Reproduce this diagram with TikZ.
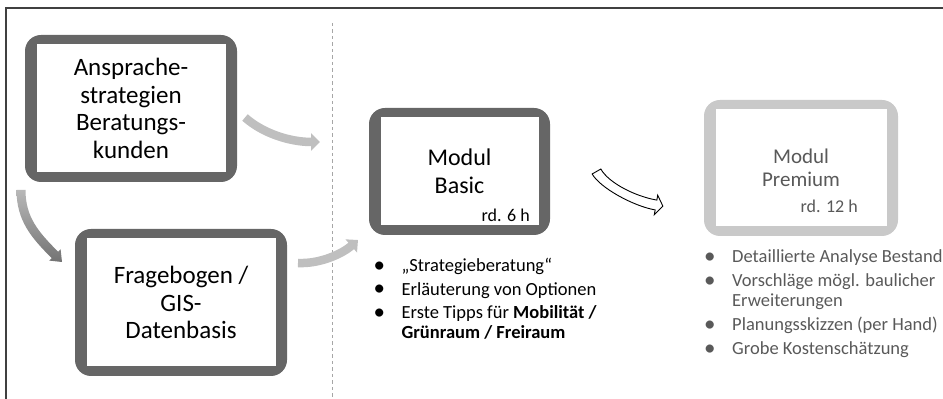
\documentclass[tikz,border=0pt]{standalone}
\usepackage{fontspec}
\setmainfont{Carlito}
\usetikzlibrary{arrows.meta,calc}
\definecolor{boxdark}{HTML}{666666}
\definecolor{boxlight}{HTML}{C9C9C9}
\definecolor{arrowgray}{HTML}{BFBFBF}
\definecolor{premtext}{HTML}{595959}
\definecolor{framecol}{HTML}{404040}
\definecolor{dashcol}{HTML}{A6A6A6}
\definecolor{shadetop}{HTML}{B8B8B8}
\definecolor{shadebot}{HTML}{737373}
\newcommand{\bigdot}{\raisebox{-0.5pt}{\fontsize{23}{20}\selectfont\textbullet}}
\begin{document}
\begin{tikzpicture}[x=1pt,y=1pt,
  modbox/.style={fill=boxdark, rounded corners=16pt, outer sep=0pt,
    align=center, inner sep=0pt,
    path picture={\fill[white, sharp corners]
      ($(path picture bounding box.south west)+(11.5,9.5)$) rectangle
      ($(path picture bounding box.north east)+(-11.5,-9.5)$);}},
  premiumbox/.style={modbox, fill=boxlight, text=premtext},
  hours/.style={inner sep=0pt, font=\fontsize{18}{20}\selectfont},
  flowarrow/.style={draw=arrowgray, line width=8.5pt,
    -{Triangle[width=17pt,length=9pt]}},
  bulletlist/.style={inner sep=0pt, anchor=base west, align=left,
    font=\fontsize{18.5}{20}\selectfont}]
\useasboundingbox (0,0) rectangle (943,399);

% frame
\draw[framecol, line width=1.5pt] (6,0) -- (6,391) -- (943,391);
% dashed separator
\draw[dashcol, line width=0.9pt, dash pattern=on 3.5pt off 3pt] (332,376) -- (332,0);

% boxes
\node[modbox, minimum width=212pt, minimum height=147pt,
  font=\fontsize{25}{27.5}\selectfont] (box1) at (131,290.5)
  {Ansprache-\\strategien\\Beratungs-\\kunden};
\node[modbox, minimum width=212pt, minimum height=147pt,
  font=\fontsize{25}{27.5}\selectfont] (box2) at (181,96.5)
  {Fragebogen /\\GIS-\\Datenbasis};
\node[modbox, minimum width=181pt, minimum height=127pt,
  font=\fontsize{24}{27.5}\selectfont] (box3) at (459.5,227.5)
  {Modul\\Basic};
\node[premiumbox, minimum width=194pt, minimum height=136pt,
  font=\fontsize{21}{23.5}\selectfont] (box4) at (801,231)
  {Modul\\Premium};

\node[hours, anchor=base east] (h3) at ($(box3.south east)+(-20,13)$) {rd. 6 h};
\node[hours, anchor=base east, text=premtext] (h4) at ($(box4.south east)+(-40,23)$) {rd. 12 h};

% lists
\node[bulletlist] (list3) at (373.4,127) {%
  \begin{tabular}[t]{@{}l@{}l@{}}
  \makebox[28pt][l]{\bigdot} & „Strategieberatung“\\[3.5pt]
  \makebox[28pt][l]{\bigdot} & Erläuterung von Optionen\\[3.5pt]
  \makebox[28pt][l]{\bigdot} & Erste Tipps für \textbf{Mobilität /}\\
   & \textbf{Grünraum / Freiraum}
  \end{tabular}};
\node[bulletlist, text=premtext] (list4) at (704,136) {%
  \begin{tabular}[t]{@{}l@{}l@{}}
  \makebox[28pt][l]{\bigdot} & Detaillierte Analyse Bestand\\[4pt]
  \makebox[28pt][l]{\bigdot} & Vorschläge mögl. baulicher\\
   & Erweiterungen\\[4pt]
  \makebox[28pt][l]{\bigdot} & Planungsskizzen (per Hand)\\[4pt]
  \makebox[28pt][l]{\bigdot} & Grobe Kostenschätzung
  \end{tabular}};

% gray flow arrows
\coordinate (a1s) at ($(box1.east)+(8,-9)$);
\coordinate (a1e) at ($(box3.west)+(-49,29.5)$);
\draw[flowarrow] (a1s) .. controls +(18,-16) and +(-30,0) .. (a1e);

\coordinate (a2s) at ($(box2.east)+(11,39.5)$);
\coordinate (a2e) at ($(box3.south west)+(-11,-5)$);
\draw[flowarrow] (a2s) .. controls +(22,-1) and +(-16,-14) .. (a2e);

% shaded arrow from box1 down to box2
\shade[top color=shadetop, bottom color=shadebot]
  (25.5,209) -- (16.5,209) .. controls (16.5,178) and (31.8,160.8) .. (51.7,140.9)
  -- (49.2,138.4) -- (62,137) -- (60.6,149.8) -- (58.1,147.3)
  .. controls (38.2,167.2) and (25.5,182) .. (25.5,209) -- cycle;

% outlined block arrow from Basic to Premium
\filldraw[fill=white, draw=black, line width=0.9pt, line join=miter]
  (600.85,229.95) .. controls (608.65,216.05) and (635.25,202.6) .. (656.85,198.9)
  -- (657.7,203.8) -- (662.9,192.8) -- (654.3,184.2) -- (655.15,189.1)
  .. controls (633.55,192.8) and (599.95,211.15) .. (592.15,225.05) -- cycle;
\end{tikzpicture}
\end{document}
